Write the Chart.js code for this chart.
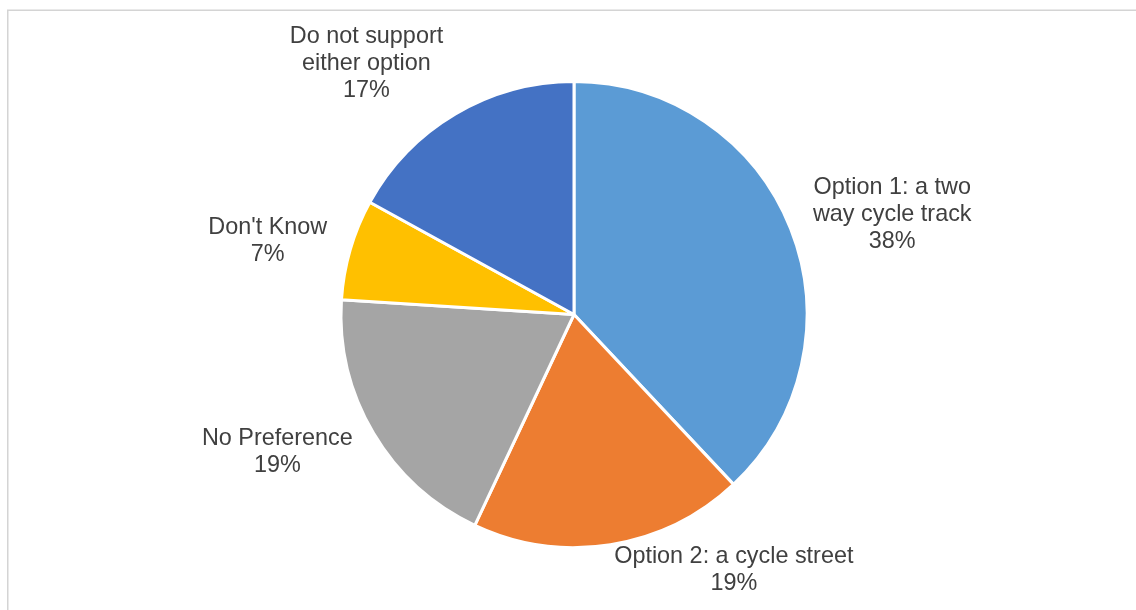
<!DOCTYPE html>
<html>
<head>
<meta charset="utf-8">
<title>Preferred option</title>
<script src="https://cdn.jsdelivr.net/npm/chart.js@4"></script>
<style>
  html, body { margin: 0; padding: 0; background: #ffffff; }
  #wrap { width: 1136px; height: 610px; position: relative; }
</style>
</head>
<body>
<div id="wrap"><canvas id="pie"></canvas></div>
<script>
// Survey answers, each category split into the lines it is printed on
const categories = [
  ['Option 1: a two', 'way cycle track'],
  ['Option 2: a cycle street'],
  ['No Preference'],
  ["Don't Know"],
  ['Do not support', 'either option']
];
// Share of respondents, in percent
const shares = [38, 19, 19, 7, 17];
const sliceColours = ['#5B9BD5', '#ED7D31', '#A5A5A5', '#FFC000', '#4472C4'];

const LABEL_FONT = '23.4px "Liberation Sans", Arial, sans-serif';
const LABEL_LINE = 27;
const LABEL_GAP = 24;

// Light outline of the chart area
const framePlugin = {
  id: 'frame',
  beforeDraw(chart) {
    const ctx = chart.ctx;
    ctx.save();
    ctx.strokeStyle = '#d4d4d4';
    ctx.lineWidth = 1.5;
    ctx.strokeRect(7.75, 10.25, chart.width + 40, chart.height + 40);
    ctx.restore();
  }
};

// Category name and percentage outside the end of each slice,
// kept inside the framed area
const outsideLabels = {
  id: 'outsideLabels',
  afterDatasetsDraw(chart) {
    const ctx = chart.ctx;
    const meta = chart.getDatasetMeta(0);
    const values = chart.data.datasets[0].data;
    const total = values.reduce((s, v) => s + v, 0);
    ctx.save();
    ctx.font = LABEL_FONT;
    ctx.fillStyle = '#404040';
    ctx.textAlign = 'center';
    ctx.textBaseline = 'middle';
    meta.data.forEach((arc, i) => {
      const p = arc.getProps(['x', 'y', 'startAngle', 'endAngle', 'outerRadius'], true);
      const mid = (p.startAngle + p.endAngle) / 2;
      const ux = Math.cos(mid), uy = Math.sin(mid);
      const lines = [...chart.data.labels[i], Math.round(values[i] / total * 100) + '%'];
      const w = Math.max(...lines.map(t => ctx.measureText(t).width));
      const h = lines.length * LABEL_LINE;
      const px = p.x + (p.outerRadius + LABEL_GAP) * ux;
      const py = p.y + (p.outerRadius + LABEL_GAP) * uy;
      const left = ux >= 0 ? px : px - w;
      let top = py + (h / 2) * uy * Math.abs(uy) - h / 2;
      top = Math.max(top, 22);
      top = Math.min(top, chart.height - 13 - h);
      lines.forEach((t, k) => {
        ctx.fillText(t, left + w / 2, top + LABEL_LINE * (k + 0.5));
      });
    });
    ctx.restore();
  }
};

new Chart(document.getElementById('pie'), {
  type: 'pie',
  data: {
    labels: categories,
    datasets: [{
      data: shares,
      backgroundColor: sliceColours,
      borderColor: '#ffffff',
      borderWidth: 3
    }]
  },
  options: {
    responsive: true,
    maintainAspectRatio: false,
    devicePixelRatio: 1,
    animation: false,
    layout: { padding: { top: 80, bottom: 61, left: 112, right: 100 } },
    plugins: {
      legend: { display: false },
      tooltip: { enabled: false }
    }
  },
  plugins: [framePlugin, outsideLabels]
});
</script>
</body>
</html>
